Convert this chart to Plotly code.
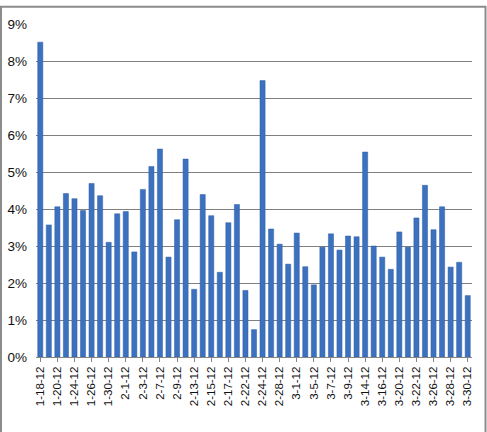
import plotly.graph_objects as go

dates = ["1-18-12", "1-19-12", "1-20-12", "1-23-12", "1-24-12", "1-25-12", "1-26-12", "1-27-12",
         "1-30-12", "1-31-12", "2-1-12", "2-2-12", "2-3-12", "2-6-12", "2-7-12", "2-8-12",
         "2-9-12", "2-10-12", "2-13-12", "2-14-12", "2-15-12", "2-16-12", "2-17-12", "2-21-12",
         "2-22-12", "2-23-12", "2-24-12", "2-27-12", "2-28-12", "2-29-12", "3-1-12", "3-2-12",
         "3-5-12", "3-6-12", "3-7-12", "3-8-12", "3-9-12", "3-13-12", "3-14-12", "3-15-12",
         "3-16-12", "3-19-12", "3-20-12", "3-21-12", "3-22-12", "3-23-12", "3-26-12", "3-27-12",
         "3-28-12", "3-29-12", "3-30-12"]

values_pct = [8.51, 3.57, 4.06, 4.42, 4.28, 3.96, 4.69, 4.36,
              3.10, 3.87, 3.93, 2.84, 4.53, 5.15, 5.62, 2.70,
              3.71, 5.35, 1.83, 4.39, 3.82, 2.29, 3.63, 4.12,
              1.80, 0.74, 7.47, 3.46, 3.05, 2.51, 3.35, 2.44,
              1.95, 2.97, 3.33, 2.89, 3.27, 3.25, 5.54, 3.00,
              2.70, 2.37, 3.38, 2.97, 3.76, 4.64, 3.44, 4.06,
              2.43, 2.56, 1.66]

values = [v / 100 for v in values_pct]
shown_ticks = dates[::2]

fig = go.Figure(go.Bar(
    x=dates, y=values,
    marker=dict(color="#3c71bf", line=dict(color="#2f5fa6", width=0.5)),
))

fig.update_layout(
    width=487, height=432,
    margin=dict(l=36, r=15, t=24, b=75, autoexpand=False),
    paper_bgcolor="white", plot_bgcolor="white",
    bargap=0.4,
    showlegend=False,
    font=dict(family="Liberation Sans, Arial, sans-serif", color="#111111"),
    shapes=[dict(type="rect", xref="paper", yref="paper",
                 x0=-0.0803, x1=1.031, y0=-0.4, y1=1.052,
                 line=dict(color="#8c8c8c", width=2), fillcolor="rgba(0,0,0,0)",
                 layer="below")],
)

fig.update_xaxes(
    type="category", automargin=False,
    tickmode="array", tickvals=shown_ticks, ticktext=shown_ticks,
    tickangle=-90, tickfont=dict(size=11.5),
    showline=True, linecolor="#868686", linewidth=1,
    ticks="outside", ticklen=4, tickcolor="#868686",
    showgrid=False,
)

fig.update_yaxes(
    range=[0, 0.09], dtick=0.01, tickformat=".0%", automargin=False,
    tickfont=dict(size=13.5),
    showgrid=True, gridcolor="#808080", gridwidth=1,
    zeroline=False, showline=False,
    ticklabelstandoff=8,
)

fig.write_html("out.html")
